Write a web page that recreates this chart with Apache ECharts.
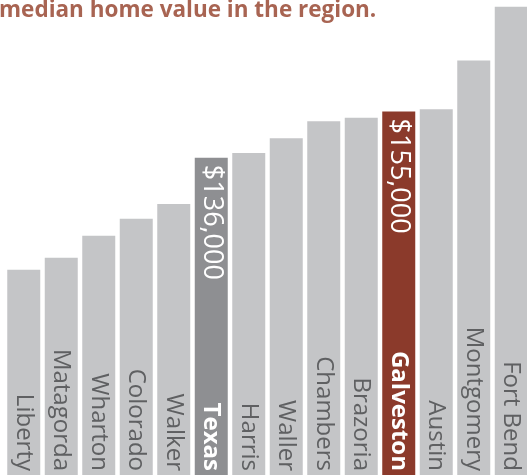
<!DOCTYPE html>
<html>
<head>
<meta charset="utf-8">
<script src="https://cdn.jsdelivr.net/npm/echarts@6/dist/echarts.min.js"></script>
<style>
html,body{margin:0;padding:0;background:#fff;overflow:hidden;width:527px;height:475px;}
#chart{width:530px;height:489px;}
</style>
</head>
<body>
<div id="chart"></div>
<script>
var categories = ['Liberty','Matagorda','Wharton','Colorado','Walker','Texas','Harris','Waller','Chambers','Brazoria','Galveston','Austin','Montgomery','Fort Bend'];
var values = [90000, 95000, 104000, 111000, 117000, 136000, 138000, 144000, 151000, 152500, 155000, 156000, 176000, 198000];
var stateName = 'Texas';
var focusName = 'Galveston';
var titleText = 'median home value in the region.';

var GRAY = '#c4c5c7', STATE = '#8e8f92', FOCUS = '#8b3a2b';
var FONT = '"Open Sans", "Noto Sans", sans-serif';

function fmt(v){ return '$' + v.toLocaleString('en-US'); }

var barData = values.map(function(v, i){
  var n = categories[i];
  var special = (n === stateName || n === focusName);
  return {
    value: v,
    itemStyle: { color: n === stateName ? STATE : (n === focusName ? FOCUS : GRAY) },
    label: special ? { color: '#ffffff', fontWeight: 'bold' } : {}
  };
});
var valLabelData = values.map(function(v, i){
  var n = categories[i];
  var special = (n === stateName || n === focusName);
  return { value: v, label: { show: special } };
});

var chart = echarts.init(document.getElementById('chart'), null, {renderer:'canvas'});
chart.setOption({
  animation: false,
  title: {
    text: titleText, left: -1, top: -1, padding: 0,
    textStyle: { fontFamily: FONT, fontSize: 22.5, fontWeight: 'bold', color: '#a86452' }
  },
  grid: { left: 5, right: 0, top: 2, bottom: 0 },
  xAxis: {
    type: 'category', data: categories,
    axisLine: {show:false}, axisTick: {show:false}, axisLabel: {show:false}, splitLine: {show:false}
  },
  yAxis: {
    type: 'value', min: 0, max: 200000,
    axisLine: {show:false}, axisTick: {show:false}, axisLabel: {show:false}, splitLine: {show:false}
  },
  series: [
    {
      type: 'bar', data: barData, barWidth: 33, barGap: '-100%',
      label: {
        show: true, position: 'insideBottom', distance: 18, rotate: -90,
        align: 'right', verticalAlign: 'middle',
        formatter: function(p){ return p.name; },
        fontFamily: FONT, fontSize: 24, color: '#5f6062'
      }
    },
    {
      type: 'bar', data: valLabelData, barWidth: 33, barGap: '-100%',
      itemStyle: { color: 'rgba(0,0,0,0)' },
      label: {
        show: false, position: 'insideTop', distance: 7, rotate: -90,
        align: 'left', verticalAlign: 'middle',
        formatter: function(p){ return fmt(p.value); },
        fontFamily: FONT, fontSize: 27, color: '#ffffff'
      }
    }
  ]
});
</script>
</body>
</html>
